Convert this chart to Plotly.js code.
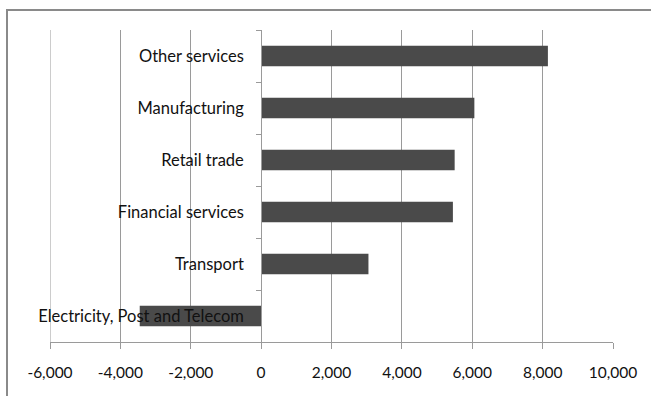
<!DOCTYPE html>
<html><head><meta charset="utf-8">
<script src="https://cdn.plot.ly/plotly-3.0.1.min.js"></script>
<style>html,body{margin:0;padding:0;background:#fff}</style>
</head><body>
<div id="chart" style="width:651px;height:396px"></div>
<script>
const sectors = ["Electricity, Post and Telecom", "Transport", "Financial services", "Retail trade", "Manufacturing", "Other services"];
const values = [-3450, 3050, 5450, 5500, 6060, 8150];
const xTicks = [-6000, -4000, -2000, 0, 2000, 4000, 6000, 8000, 10000];
const xTickLabels = ["-6,000", "-4,000", "-2,000", "0", "2,000", "4,000", "6,000", "8,000", "10,000"];

const fam = "Lato, 'Open Sans', sans-serif";

Plotly.newPlot("chart", [{
  type: "bar", orientation: "h",
  y: sectors, x: values,
  marker: {color: "#4a4a4a", line: {width: 0}},
  width: 0.39
}], {
  width: 651, height: 396,
  margin: {l: 50, r: 38, t: 30, b: 54, pad: 0},
  paper_bgcolor: "#fff", plot_bgcolor: "#fff",
  showlegend: false,
  font: {family: fam, size: 15, color: "#111"},
  xaxis: {
    range: [-6000, 10000], tickvals: xTicks, ticktext: xTickLabels,
    showgrid: true, gridcolor: "#9a9a9a", gridwidth: 1,
    zeroline: false,
    showline: true, linecolor: "#9a9a9a", linewidth: 1,
    ticks: "outside", ticklen: 6, tickcolor: "#9a9a9a",
    ticklabelstandoff: 10,
    tickfont: {family: fam, size: 15.5, color: "#111"}, fixedrange: true
  },
  yaxis: {
    type: "category", range: [-0.5, 5.5],
    anchor: "free", position: 0.375,
    showgrid: false, zeroline: false,
    showline: true, linecolor: "#9a9a9a", linewidth: 1,
    ticks: "outside", ticklen: 5, tickcolor: "#9a9a9a",
    tickson: "boundaries",
    ticklabelstandoff: 14,
    tickfont: {family: fam, size: 16.5, color: "#111"}, fixedrange: true
  },
  shapes: [{
    type: "line", xref: "x", yref: "paper",
    x0: xTicks[0], x1: xTicks[0], y0: 0, y1: 1,
    line: {color: "#9a9a9a", width: 1}, layer: "below"
  }, {
    type: "rect", xref: "paper", yref: "paper",
    x0: -43/563, x1: 1.2, y0: -0.3, y1: 1 + 20/312,
    line: {color: "#8a8a8a", width: 2}, fillcolor: "rgba(0,0,0,0)", layer: "below"
  }]
}, {displayModeBar: false, staticPlot: true});
</script>
</body></html>
